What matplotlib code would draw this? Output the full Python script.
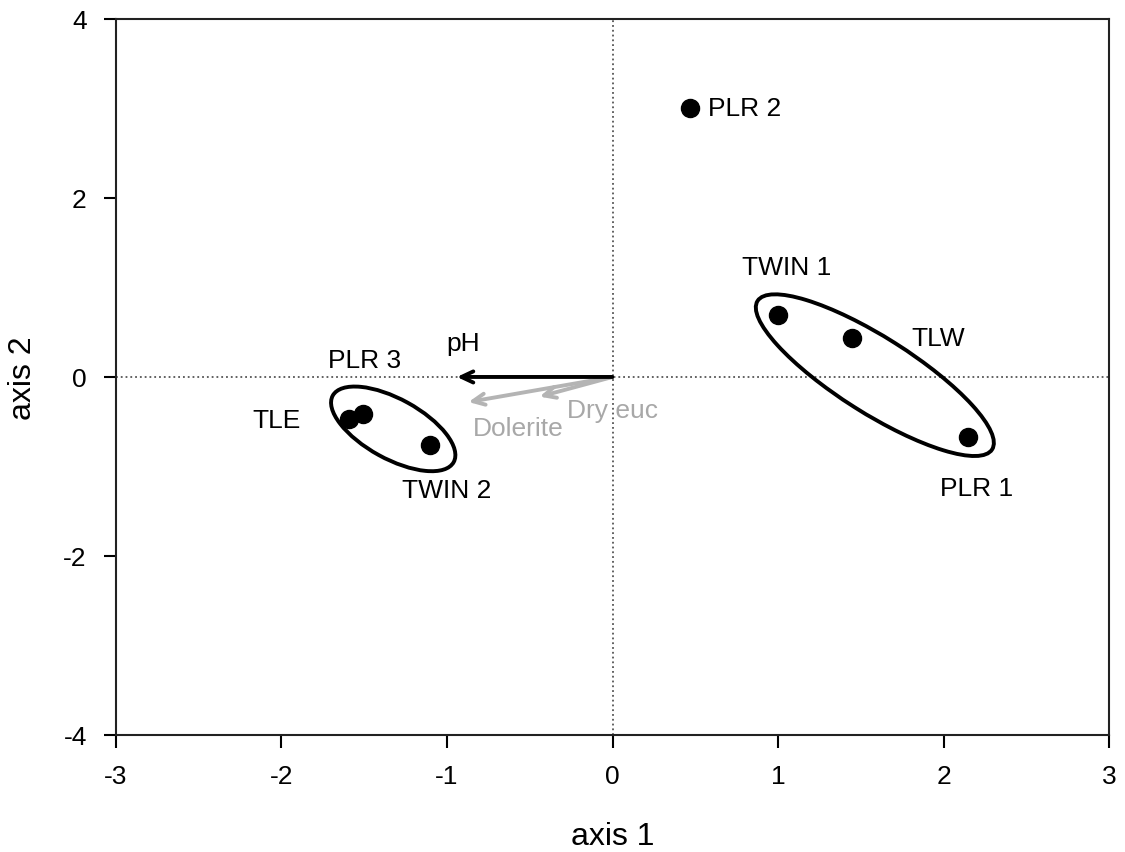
import numpy as np
import matplotlib
matplotlib.use('Agg')
from matplotlib import pyplot as plt
from matplotlib.patches import Ellipse
from matplotlib.transforms import Affine2D

plt.rcParams['font.family'] = ['Liberation Sans', 'DejaVu Sans']
plt.rcParams['axes.unicode_minus'] = False

# site scores (axis 1, axis 2)
sites = ['PLR 2', 'TWIN 1', 'TLW', 'PLR 1', 'TLE', 'PLR 3', 'TWIN 2']
ax1 = [0.47, 1.00, 1.45, 2.15, -1.59, -1.51, -1.10]
ax2 = [3.00, 0.69, 0.43, -0.67, -0.47, -0.41, -0.76]
# label anchor for each site
lab_x = [0.575, 1.05, 1.97, 2.20, -2.03, -1.50, -1.00]
lab_y = [3.00, 1.23, 0.44, -1.24, -0.48, 0.19, -1.26]
lab_ha = ['left', 'center', 'center', 'center', 'center', 'center', 'center']

# environmental vectors
env = ['Dolerite', 'Dry euc', 'pH']
env_x = [-0.87, -0.44, -0.94]
env_y = [-0.28, -0.22, 0.0]
env_col = ['#b4b4b4', '#b4b4b4', 'black']
env_lx = [-0.57, 0.0, -0.90]
env_ly = [-0.57, -0.37, 0.38]

fig = plt.figure(figsize=(11.25, 8.53), dpi=100)
ax = fig.add_axes([0.1031, 0.1372, 0.8827, 0.8394])
ax.set_xlim(-3, 3)
ax.set_ylim(-4, 4)

ax.axhline(0, color='#555555', ls=':', lw=1.3, zorder=1)
ax.axvline(0, color='#555555', ls=':', lw=1.3, zorder=1)

for i in range(len(env)):
    ax.annotate('', xy=(env_x[i], env_y[i]), xytext=(0, 0),
                arrowprops=dict(arrowstyle='->,head_length=0.85,head_width=0.4',
                                color=env_col[i], lw=2.8, shrinkA=0, shrinkB=0))
    ax.text(env_lx[i], env_ly[i], env[i], color='#a8a8a8' if env_col[i] != 'black' else 'black',
            fontsize=19, ha='center', va='center')

ax.plot(ax1, ax2, 'o', color='black', ms=13, zorder=5)
for i in range(len(sites)):
    ax.text(lab_x[i], lab_y[i], sites[i], fontsize=19, ha=lab_ha[i], va='center')

# group ellipses, drawn in screen-like units so they are not skewed
k = (165.3 / 89.9)
for cx, cy, w, h, ang in [(1.585, 0.02, 1.68, 0.46, -32.5), (-1.325, -0.58, 0.835, 0.363, -29)]:
    e = Ellipse((0, 0), w, h, angle=ang, fill=False, ec='black', lw=2.8,
                transform=Affine2D().scale(1, k).translate(cx, cy) + ax.transData)
    ax.add_patch(e)

ax.set_xticks([-3, -2, -1, 0, 1, 2, 3])
ax.set_yticks([-4, -2, 0, 2, 4])
ax.tick_params(direction='out', length=9, width=1.5, labelsize=19, pad=12)
for s in ax.spines.values():
    s.set_linewidth(1.5)
    s.set_color('#222222')

ax.set_xlabel('axis 1', fontsize=23, labelpad=24)
ax.set_ylabel('axis 2', fontsize=23, labelpad=18)

fig.savefig('out.png', dpi=100)
